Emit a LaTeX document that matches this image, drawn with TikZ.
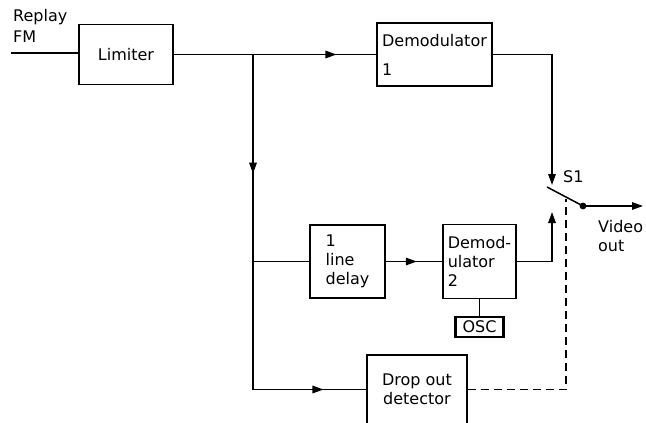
\documentclass[tikz,border=0pt]{standalone}
\usepackage{fontspec}
\setmainfont{DejaVu Sans}
\usetikzlibrary{arrows.meta,decorations.markings}
\begin{document}
\begin{tikzpicture}[x=1pt,y=-1pt,
  >={Triangle[length=11pt,width=7.5pt]},
  txt/.style={font=\fontsize{16}{19}\selectfont},
  box/.style={draw,line width=1.9pt,rectangle,inner sep=0pt,align=left,txt},
  wire/.style={line width=1.5pt},
  dashwire/.style={line width=1.5pt,dash pattern=on 8pt off 5pt},
  midarrow/.style={postaction={decorate},decoration={markings,mark=at position #1 with {\arrow{>}}}},
  twoarrows/.style 2 args={postaction={decorate},decoration={markings,
     mark=at position #1 with {\arrow{>}},mark=at position #2 with {\arrow{>}}}}
]
\useasboundingbox (0,0) rectangle (646,423);

% blocks
\node[box,minimum width=94pt,minimum height=60pt] (lim) at (126,54.5) {Limiter};
\node[box,minimum width=115pt,minimum height=63pt] (dem1) at (434.5,54.5) {Demodulator\\[10pt]1};
\node[box,minimum width=75pt,minimum height=73pt] (del) at (347.5,261.5) {1\\line\\delay};
\node[box,minimum width=73pt,minimum height=74pt] (dem2) at (479.5,261.5) {Demod-\\ulator\\2};
\node[box,line width=2.8pt,minimum width=48pt,minimum height=20pt] (osc) at (479.5,327) {OSC};
\node[box,align=center,minimum width=100pt,minimum height=69pt] (dod) at (417,389.5) {Drop out\\detector};

% labels
\node[txt,anchor=north west,inner sep=0pt,align=left] (inlab) at (13,9) {Replay\\[2pt]FM};
\node[txt,anchor=base west,inner sep=0pt] (s1lab) at (563,182) {S1};
\node[txt,anchor=north west,inner sep=0pt,align=left] (vlab) at (598,220) {Video\\out};

% coordinates
\coordinate (inp) at (11,53);
\coordinate (j1) at (253,54.5);
\coordinate (j2) at (253,261.5);
\coordinate (c1) at (552,185);
\coordinate (c2) at (552,212);
\coordinate (bladeend) at (547,187);
\coordinate (pivot) at (583,206);
\coordinate (vout) at (643,206);
\coordinate (dashtop) at (566,199);

% connectors
\draw[wire] (inp) -- (inp -| lim.west);
\draw[wire,midarrow=0.804] (lim.east) -- (dem1.west);
\draw[wire,twoarrows={0.266}{0.905}] (j1) |- (dod.west);
\draw[wire] (j2) -- (del.west);
\draw[wire,midarrow=0.55] (del.east) -- (dem2.west);
\draw[wire] (dem2.south) -- (osc.north);
\draw[wire,->] (dem1.east) -| (c1);
\draw[wire,->] (dem2.east) -| (c2);
\draw[wire] (bladeend) -- (pivot);
\fill (pivot) circle (3.4pt);
\draw[wire,->] (pivot) -- (vout);
\draw[dashwire] (dod.east) -| (dashtop);
\end{tikzpicture}
\end{document}
